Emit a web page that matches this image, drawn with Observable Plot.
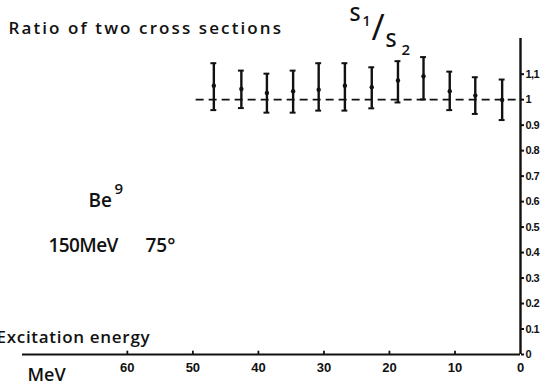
<!DOCTYPE html>
<html><head><meta charset="utf-8">
<script src="https://cdn.jsdelivr.net/npm/d3@7"></script>
<script src="https://cdn.jsdelivr.net/npm/@observablehq/plot@0.6"></script>
<style>
html,body{margin:0;padding:0;background:#fff} svg{display:block}
.wide-title text{letter-spacing:2.1px}
.wide-label text{letter-spacing:0.7px}
.tight text{letter-spacing:-0.6px}
</style>
</head><body><div id="chart"></div>
<script>
// ---- data ----
const energy    = [46.8, 42.6, 38.7, 34.7, 30.8, 26.8, 22.7, 18.7, 14.8, 10.8, 6.9, 2.8];
const ratio     = [1.055, 1.042, 1.026, 1.033, 1.039, 1.055, 1.049, 1.075, 1.092, 1.033, 1.016, 0.999];
const ratioHigh = [1.143, 1.114, 1.102, 1.114, 1.143, 1.143, 1.127, 1.151, 1.167, 1.110, 1.088, 1.079];
const ratioLow  = [0.959, 0.967, 0.949, 0.949, 0.957, 0.957, 0.966, 0.989, 1.001, 0.959, 0.944, 0.920];
const referenceRatio = [1];
const xTicks = [0, 10, 20, 30, 40, 50, 60];
const yTicks = [0, 0.1, 0.2, 0.3, 0.4, 0.5, 0.6, 0.7, 0.8, 0.9, 1, 1.1];
const yTickLabels = ["0", "0.1", "0.2", "0.3", "0.4", "0.5", "0.6", "0.7", "0.8", "0.9", "1", "1,1"];
const titleText = "Ratio of two cross sections";
const fracTexts = ["S", "1", "/", "S", "2"];
const nucleusText = ["Be", "9"];
const conditionText = ["150MeV", "75°"];
const xLabelText = "Excitation energy";
const unitText = "MeV";

const points = energy.map((e, i) => ({e, r: ratio[i], hi: ratioHigh[i], lo: ratioLow[i]}));
const cap = 0.45;
const ink = "#111";
const font = "'Open Sans', 'Noto Sans', 'DejaVu Sans', sans-serif";
const tickFont = "'Liberation Sans', 'Arial', sans-serif";

// annotation helper: position relative to the frame corner, in pixels
const ann = (t, frameAnchor, dx, dy, fontSize, extra = {}) =>
  Plot.text([t], {text: d => d, frameAnchor, dx, dy, fontSize, textAnchor: "start",
    lineAnchor: "middle", fontFamily: font, fontWeight: 600, fill: ink, ...extra});

const chart = Plot.plot({
  width: 544, height: 386,
  marginLeft: 22, marginRight: 24, marginTop: 38, marginBottom: 32,
  x: {domain: [76, 0]},
  y: {domain: [0, 1.24]},
  style: {background: "#fff", color: ink, overflow: "visible"},
  marks: [
    // axes
    Plot.ruleY([0], {x1: 76, x2: 0, stroke: ink, strokeWidth: 1.8}),
    Plot.ruleX([0], {y1: 0, y2: 1.24, stroke: ink, strokeWidth: 2.4}),
    Plot.ruleX(xTicks.filter(d => d > 0), {x: d => d, y1: 0, y2: 0.013, stroke: ink, strokeWidth: 1.8}),
    Plot.axisX({ticks: xTicks, tickSize: 0, tickPadding: 8, fontSize: 13, fontWeight: "bold",
      fontFamily: tickFont, label: null}),
    Plot.axisY({anchor: "right", ticks: yTicks, tickSize: 3, tickPadding: 2,
      tickFormat: d => yTickLabels[yTicks.indexOf(d)], fontSize: 11, fontWeight: "bold",
      fontFamily: tickFont, label: null, strokeWidth: 2, className: "tight"}),
    // reference line at ratio 1
    Plot.ruleY(referenceRatio, {y: d => d, x1: 49.5, x2: 0, stroke: ink, strokeWidth: 1.7, strokeDasharray: "8,5"}),
    // error bars
    Plot.ruleX(points, {x: "e", y1: "lo", y2: "hi", stroke: ink, strokeWidth: 2.4}),
    Plot.ruleY(points, {y: "hi", x1: d => d.e + cap, x2: d => d.e - cap, stroke: ink, strokeWidth: 2}),
    Plot.ruleY(points, {y: "lo", x1: d => d.e + cap, x2: d => d.e - cap, stroke: ink, strokeWidth: 2}),
    Plot.dot(points, {x: "e", y: "r", r: 2.2, fill: ink, stroke: "none"}),
    // texts
    ann(titleText, "top-left", -14, -10, 17, {className: "wide-title"}),
    ann(fracTexts[0], "top-left", 327, -24, 20),
    ann(fracTexts[1], "top-left", 340, -17, 14),
    ann(fracTexts[2], "top-left", 349, -10, 36, {fontWeight: 400}),
    ann(fracTexts[3], "top-left", 363, 2, 20),
    ann(fracTexts[4], "top-left", 379, 12, 15),
    ann(nucleusText[0], "top-left", 66, 162, 19),
    ann(nucleusText[1], "top-left", 92, 151, 15),
    ann(conditionText[0], "top-left", 26, 207, 19, {className: "tight"}),
    ann(conditionText[1], "top-left", 123, 207, 19),
    ann(xLabelText, "bottom-left", -26, -17, 17, {className: "wide-label"}),
    ann(unitText, "bottom-left", 5, 21, 18)
  ]
});
document.getElementById("chart").appendChild(chart);
</script>
</body></html>
